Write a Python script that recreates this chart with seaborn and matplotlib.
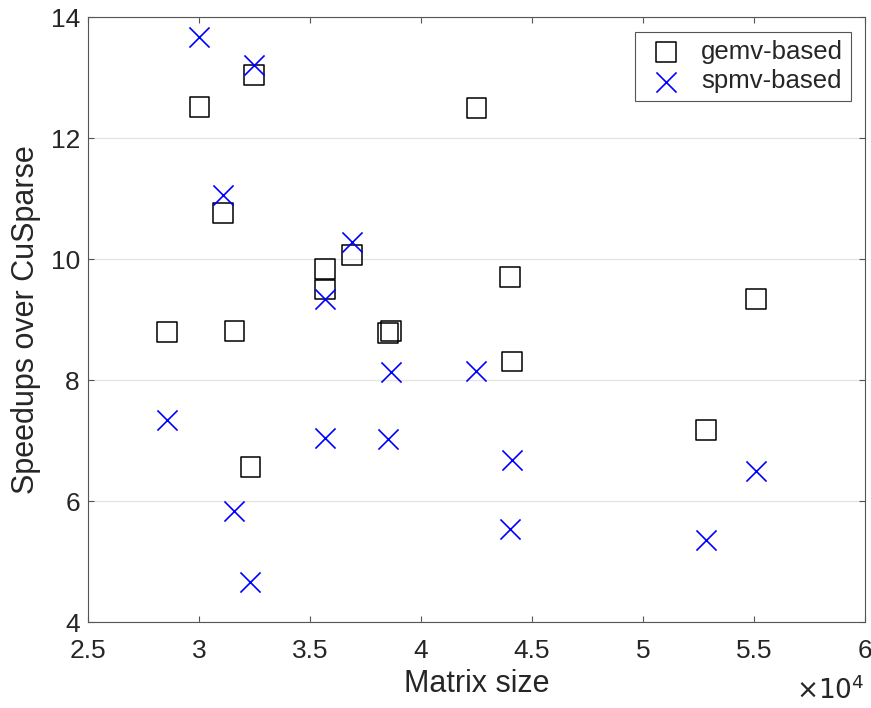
import matplotlib
matplotlib.use("Agg")
import matplotlib.pyplot as plt
import pandas as pd
import seaborn as sns

# values
matrix_size = [28530, 30010, 31070, 31590, 32310, 32470, 35660, 35690,
               36900, 38520, 38630, 42500, 44000, 44110, 52860, 55110]
gemv_speedup = [8.80, 12.51, 10.76, 8.82, 6.57, 13.05, 9.84, 9.50,
                10.07, 8.78, 8.81, 12.50, 9.71, 8.31, 7.18, 9.34]
spmv_speedup = [7.34, 13.67, 11.06, 5.84, 4.67, 13.21, 7.04, 9.34,
                10.29, 7.03, 8.14, 8.16, 5.54, 6.69, 5.36, 6.50]

x_ticks = [25000, 30000, 35000, 40000, 45000, 50000, 55000, 60000]
x_tick_labels = ["2.5", "3", "3.5", "4", "4.5", "5", "5.5", "6"]
y_ticks = [4, 6, 8, 10, 12, 14]

df = pd.DataFrame({"size": matrix_size, "gemv": gemv_speedup, "spmv": spmv_speedup})

sns.set_style("white")
plt.rcParams["font.family"] = ["Liberation Sans", "DejaVu Sans"]
text_color = "#262626"
axis_color = "#555555"

fig = plt.figure(figsize=(8.71, 7.08), dpi=100)
ax = fig.add_axes([0.1014, 0.121, 0.8913, 0.8546])

sns.scatterplot(data=df, x="size", y="gemv", marker="s", s=205,
                facecolors="none", edgecolor="black", linewidth=1.1,
                label="gemv-based", ax=ax, zorder=3)
sns.scatterplot(data=df, x="size", y="spmv", marker="x", s=210,
                color="#0000ff", linewidth=1.2,
                label="spmv-based", ax=ax, zorder=3)

ax.set_xlim(25000, 60000)
ax.set_ylim(4, 14)
ax.set_xticks(x_ticks)
ax.set_xticklabels(x_tick_labels)
ax.set_yticks(y_ticks)

ax.yaxis.grid(True, color="#e3e3e3", linewidth=0.9, zorder=0)
ax.xaxis.grid(False)
ax.set_axisbelow(True)

ax.tick_params(direction="in", length=4.5, width=0.8, colors=axis_color,
               labelcolor=text_color, labelsize=19,
               top=True, right=True, bottom=True, left=True)
ax.tick_params(axis="x", pad=12)
ax.tick_params(axis="y", pad=6)
for spine in ax.spines.values():
    spine.set_color(axis_color)
    spine.set_linewidth(0.8)

ax.set_xlabel("Matrix size", fontsize=22, color=text_color, labelpad=4)
ax.set_ylabel("Speedups over CuSparse", fontsize=22, color=text_color, labelpad=7)

ax.text(1.0, -0.088, r"$\times10^{4}$", transform=ax.transAxes, ha="right",
        va="top", fontsize=19, color=text_color)

leg = ax.legend(loc="upper right", bbox_to_anchor=(0.982, 0.975), borderaxespad=0,
                fontsize=18.5, frameon=True, fancybox=False, framealpha=1,
                edgecolor=axis_color, borderpad=0.3, handlelength=1.8,
                handletextpad=0.45, labelspacing=0.2)
leg.get_frame().set_linewidth(0.8)
for t in leg.get_texts():
    t.set_color(text_color)

fig.savefig("out.png", dpi=100)
